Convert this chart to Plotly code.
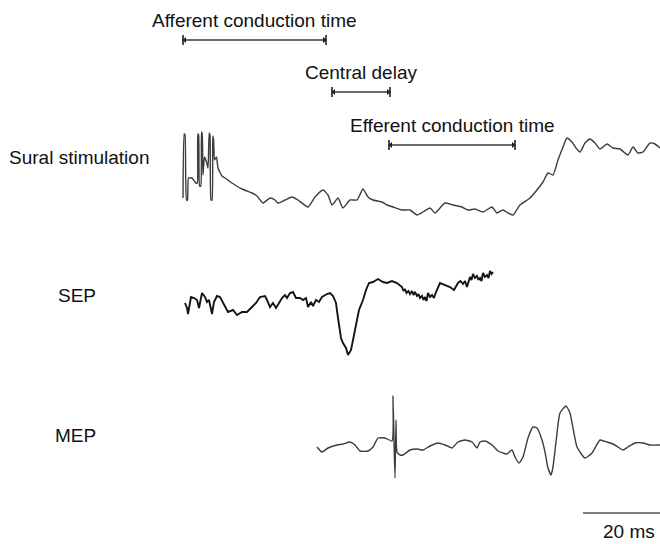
import plotly.graph_objects as go

# ---- recorded traces: time after sural stimulus (ms), amplitude (a.u.) ----
sural_t = [0.0, 0.24, 0.4, 0.7, 0.9, 1.1, 1.8, 2.6, 2.86, 2.96,
           3.12, 3.32, 3.56, 3.7, 3.84, 4.0, 4.3, 4.7, 5.0, 5.24,
           5.4, 5.6, 5.8, 5.96, 6.12, 6.3, 6.7, 7.0, 7.8, 8.4,
           9.8, 11.8, 13.8, 14.8, 16.0, 17.4, 18.4, 19.0, 20.4, 21.8,
           23.0, 25.0, 26.4, 28.0, 29.0, 29.8, 31.0, 32.0, 33.4, 34.8,
           36.0, 37.0, 38.0, 39.8, 40.8, 42.0, 43.8, 45.4, 46.8, 48.0,
           49.4, 50.4, 51.4, 52.4, 54.0, 55.8, 57.0, 58.4, 60.0, 61.8,
           62.8, 64.0, 65.0, 66.0, 67.4, 69.4, 70.8, 72.0, 73.0, 74.0,
           75.0, 76.0, 76.8, 77.8, 78.6, 79.4, 80.4, 81.4, 82.4, 83.4,
           84.8, 86.0, 87.4, 89.0, 90.0, 91.0, 92.0, 93.4, 94.4, 95.4]
sural_v = [-18, 46, 45, -20, -20, 2, 2, -3, -3, 46,
           45, -6, -6, 48, 46, 5, 23, 18, 12, 47,
           45, -20, -20, 44, 40, 20, 23, 12, 4, 2,
           -3, -9, -13, -16, -23, -18, -20, -23, -20, -17,
           -20, -27, -17, -10, -15, -25, -18, -28, -20, -20,
           -9, -17, -20, -22, -25, -27, -30, -30, -35, -32,
           -28, -33, -28, -23, -25, -27, -30, -29, -32, -27,
           -33, -30, -33, -35, -25, -18, -10, -2, 7, 5,
           20, 33, 42, 38, 32, 28, 37, 41, 37, 31,
           36, 32, 31, 25, 33, 27, 28, 37, 36, 32]

sep_t = [0.4, 0.8, 1.0, 1.6, 2.2, 2.8, 3.2, 3.8, 4.4, 4.8,
         5.2, 5.8, 6.2, 6.8, 7.4, 8.2, 9.0, 10.0, 10.8, 11.8,
         12.8, 13.8, 14.6, 15.4, 16.4, 16.8, 17.4, 18.0, 18.6, 19.2,
         19.8, 20.4, 20.8, 21.4, 22.0, 22.6, 23.4, 24.0, 24.6, 25.0,
         25.6, 26.0, 26.6, 27.2, 27.8, 28.8, 29.4, 30.0, 30.6, 31.0,
         31.6, 32.0, 32.6, 33.0, 33.6, 34.0, 34.6, 35.2, 36.0, 36.6,
         37.2, 38.0, 39.0, 40.0, 40.8, 41.8, 42.8, 43.8, 44.1, 44.4,
         44.7, 45.1, 45.4, 45.8, 46.1, 46.4, 46.8, 47.1, 47.4, 47.8,
         48.1, 48.4, 48.7, 49.0, 49.4, 49.8, 50.2, 50.6, 51.4, 52.4,
         53.4, 54.2, 55.0, 55.5, 56.0, 56.4, 56.8, 57.4, 57.7, 58.0,
         58.4, 58.8, 59.1, 59.4, 59.7, 60.0, 60.4, 60.8, 61.1, 61.4,
         61.7, 62.0]
sep_v = [-3, -8, -14, 3, 2, 0, -8, 7, 3, -2,
         0, -14, -2, 4, 3, -5, -12, -10, -15, -12,
         -12, -7, -3, 3, 4, 0, -7, -3, -8, -3,
         2, 5, 2, 7, 8, 2, 2, 0, 2, -7,
         -2, -6, 0, -2, 3, 6, 7, 4, -3, -18,
         -38, -43, -48, -55, -50, -40, -23, -10, 0, 10,
         17, 18, 21, 18, 17, 19, 17, 13, 9, 11,
         7, 9, 6, 9, 5, 8, 4, 6, 2, 4,
         0, 3, -1, 7, 3, 5, 2, 8, 17, 15,
         13, 10, 17, 19, 16, 19, 13, 23, 20, 26,
         22, 24, 20, 22, 19, 27, 23, 25, 22, 29,
         26, 28]

mep_t = [26.8, 27.8, 29.0, 30.8, 32.0, 33.4, 34.4, 35.4, 37.0, 38.0,
         39.0, 40.4, 41.8, 42.0, 42.2, 42.4, 42.6, 42.8, 43.4, 44.0,
         45.4, 46.8, 48.0, 49.4, 51.0, 52.4, 53.8, 55.0, 56.4, 57.8,
         58.8, 59.4, 60.4, 61.8, 63.0, 64.8, 65.8, 66.4, 67.2, 68.0,
         69.0, 70.0, 70.8, 71.8, 72.4, 73.0, 73.6, 74.0, 74.6, 75.4,
         76.6, 77.4, 78.0, 78.8, 80.4, 81.8, 83.4, 84.8, 86.0, 87.0,
         88.0, 89.0, 90.4, 92.0, 93.4, 95.4]
mep_v = [-2, -7, -3, 0, 1, 3, 0, -6, -6, -2,
         7, 7, 4, 49, 4, -33, 25, -7, -10, -10,
         -5, -4, -5, -1, 2, 0, -3, 3, 5, 3,
         -3, 3, 4, 0, -6, -9, -5, -12, -18, -12,
         7, 18, 17, 5, -7, -23, -30, -22, 3, 32,
         39, 32, 17, -2, -13, -8, 5, 3, 1, -2,
         -5, -2, 2, 2, 0, 0]

# ---- timing intervals (ms) ----
interval_names = ["Afferent conduction time", "Central delay", "Efferent conduction time"]
interval_start = [0.0, 29.8, 41.2]
interval_end = [28.6, 41.4, 66.4]

trace_names = ["Sural stimulation", "SEP", "MEP"]
scale_bar_ms = 20

# ---- layout constants (vertical positions on the page scale) ----
row_baseline = {"Sural stimulation": -180, "SEP": -300, "MEP": -445}
interval_row = [-40, -92, -145]
X_RANGE = [-36.6, 95.4]
Y_RANGE = [-544, 0]
FONT = "Arial, 'Liberation Sans', Helvetica, sans-serif"
TEXT_SIZE = 19
TRACE_COLOR = "#3c3c3c"

fig = go.Figure()

traces = {
    "Sural stimulation": (sural_t, sural_v, TRACE_COLOR, 1.4, "spline"),
    "SEP": (sep_t, sep_v, "#151515", 1.9, "linear"),
    "MEP": (mep_t, mep_v, TRACE_COLOR, 1.4, "spline"),
}
for name in trace_names:
    t, v, color, width, shape = traces[name]
    base = row_baseline[name]
    fig.add_trace(go.Scatter(
        x=t, y=[base + a for a in v], mode="lines",
        line=dict(color=color, width=width, shape=shape, smoothing=0.5),
        hoverinfo="skip", showlegend=False))

# interval bars with end ticks and arrowheads
for name, t0, t1, yb in zip(interval_names, interval_start, interval_end, interval_row):
    fig.add_trace(go.Scatter(
        x=[t0, t1], y=[yb, yb], mode="lines",
        line=dict(color="#3a3a3a", width=1.3), hoverinfo="skip", showlegend=False))
    fig.add_trace(go.Scatter(
        x=[t0, t1], y=[yb, yb], mode="markers",
        marker=dict(symbol="line-ns", size=7, line=dict(color="#222", width=1.6)),
        hoverinfo="skip", showlegend=False))
    fig.add_trace(go.Scatter(
        x=[t0 + 0.35, t1 - 0.35], y=[yb, yb], mode="markers",
        marker=dict(symbol=["triangle-left", "triangle-right"], size=5, color="#222"),
        hoverinfo="skip", showlegend=False))
    fig.add_annotation(
        x=(t0 + t1) / 2, y=yb + 20, text=name, showarrow=False,
        xanchor="center", yanchor="middle",
        font=dict(family=FONT, size=TEXT_SIZE, color="#111"))

# row labels
label_row = {"Sural stimulation": -157, "SEP": -295, "MEP": -435}
for name in trace_names:
    fig.add_annotation(
        x=-17.0 if name != "Sural stimulation" else -6.4, y=label_row[name],
        text=name, showarrow=False, xanchor="right", yanchor="middle",
        font=dict(family=FONT, size=TEXT_SIZE, color="#111"))

# time scale bar (its label kept inside the page edge)
sb_start = 80
fig.add_shape(type="line", x0=sb_start, x1=sb_start + scale_bar_ms, y0=-513, y1=-513,
              line=dict(color="#555", width=1.3))
fig.add_annotation(
    x=X_RANGE[1], y=-531, text=f"{scale_bar_ms} ms", showarrow=False,
    xanchor="right", yanchor="middle", xshift=-3,
    font=dict(family=FONT, size=TEXT_SIZE, color="#111"))

fig.update_layout(
    width=660, height=544,
    margin=dict(l=0, r=0, t=0, b=0),
    paper_bgcolor="white", plot_bgcolor="white",
    xaxis=dict(range=X_RANGE, visible=False, fixedrange=True),
    yaxis=dict(range=Y_RANGE, visible=False, fixedrange=True),
    showlegend=False,
)

fig.write_html("out.html", config={"displayModeBar": False})
